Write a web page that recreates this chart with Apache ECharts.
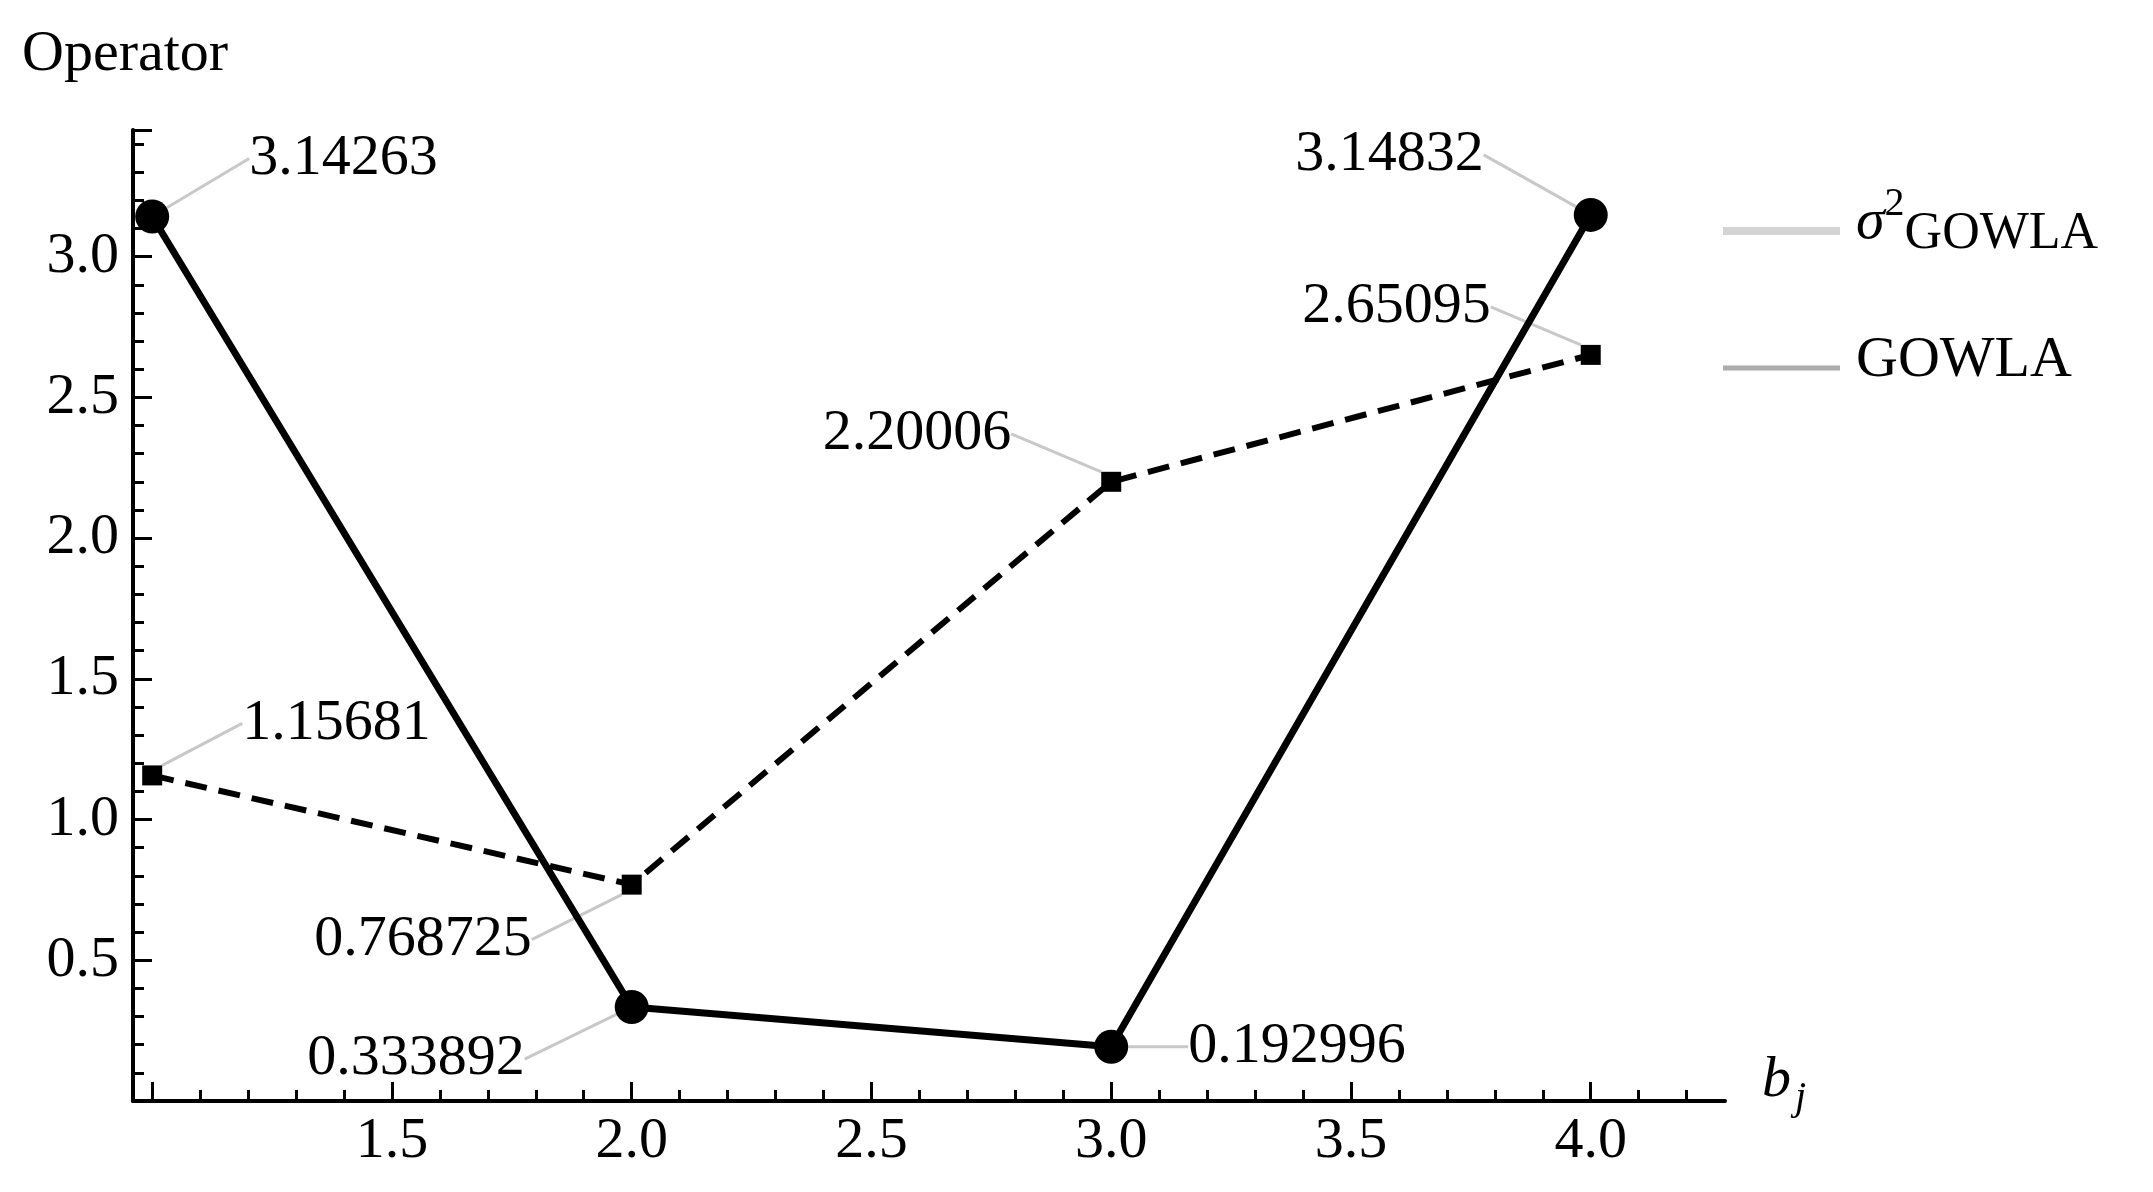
<!DOCTYPE html>
<html><head><meta charset="utf-8">
<script src="https://cdn.jsdelivr.net/npm/echarts@6/dist/echarts.min.js"></script>
<style>html,body{margin:0;padding:0;background:#fff}#c{width:2153px;height:1192px}</style>
</head><body><div id="c"></div>
<script>
const xValues = [1, 2, 3, 4];
const gowla = [3.14263, 0.333892, 0.192996, 3.14832];
const sigma2Gowla = [1.15681, 0.768725, 2.20006, 2.65095];
const xTickLabels = [1.5, 2.0, 2.5, 3.0, 3.5, 4.0];
const xMajorTicks = [1, 1.5, 2, 2.5, 3, 3.5, 4];

const xMinorTicks = [];
for (let i = 11; i <= 43; i++) { if (i % 5 !== 0) xMinorTicks.push(i / 10); }

const F = 'Liberation Serif, Times New Roman, serif';
const FS = 58;
// label offsets (style, px)
const gOff = [[75,-58,'left'],[-85,52,'right'],[55,0,'left'],[-85,-60,'right']];
const sOff = [[75,-52,'left'],[-85,55,'right'],[-85,-48,'right'],[-85,-48,'right']];

function mk(vals, offs){
  return vals.map((v,i)=>({value:[xValues[i], v], label:{position: offs[i][2]==='left'?'right':'left'}}));
}
const chart = echarts.init(document.getElementById('c'));
const tickStyle = {color:'#000', width:3};
chart.setOption({
  animation:false,
  grid:{left:133, right:428, top:130, bottom:91, containLabel:false},
  xAxis:[{
    type:'value', min:0.96, max:4.28,
    axisLine:{onZero:false, lineStyle:{color:'#000', width:4}},
    axisTick:{inside:true, length:19, lineStyle:tickStyle, customValues:xMajorTicks},
    axisLabel:{customValues:xTickLabels, formatter:v=>v.toFixed(1), color:'#000', fontFamily:F, fontSize:FS, margin:12},
    splitLine:{show:false}
  },{
    type:'value', min:0.96, max:4.28, position:'bottom',
    axisLine:{show:false},
    axisTick:{inside:true, length:11, lineStyle:tickStyle, customValues:xMinorTicks},
    axisLabel:{show:false}, splitLine:{show:false}
  }],
  yAxis:{
    type:'value', min:0, max:3.45, interval:0.5,
    axisLine:{show:true, onZero:false, lineStyle:{color:'#000', width:4}},
    axisTick:{show:true, inside:true, length:19, lineStyle:tickStyle},
    minorTick:{show:true, splitNumber:5, length:11, lineStyle:tickStyle},
    axisLabel:{color:'#000', fontFamily:F, fontSize:FS, margin:14, showMaxLabel:false,
      formatter:v=> (v>0 && v<=3.0001) ? v.toFixed(1) : ''},
    splitLine:{show:false}
  },
  series:[{
    name:'σ2GOWLA', type:'line', data:mk(sigma2Gowla, sOff), z:3,
    symbol:'rect', symbolSize:20, itemStyle:{color:'#000'},
    lineStyle:{color:'#000', width:6, type:[22,12]},
    label:{show:true, color:'#000', fontFamily:F, fontSize:FS, formatter:p=>String(p.value[1])},
    labelLine:{show:true, lineStyle:{color:'#c8c8c8', width:3}},
    labelLayout:p=>({dx:sOff[p.dataIndex][0], dy:sOff[p.dataIndex][1]})
  },{
    name:'GOWLA', type:'line', data:mk(gowla, gOff), z:4,
    symbol:'circle', symbolSize:34, itemStyle:{color:'#000'},
    lineStyle:{color:'#000', width:7},
    label:{show:true, color:'#000', fontFamily:F, fontSize:FS, formatter:p=>String(p.value[1])},
    labelLine:{show:true, lineStyle:{color:'#c8c8c8', width:3}},
    labelLayout:p=>({dx:gOff[p.dataIndex][0], dy:gOff[p.dataIndex][1]})
  }],
  graphic:[
    {type:'text', left:22, top:26, style:{text:'Operator', font:`${FS}px ${F}`, fill:'#000'}},
    {type:'text', left:1762, top:1052, style:{rich:{b:{fontFamily:F, fontSize:FS, fontStyle:'italic', fill:'#000'}, j:{fontFamily:F, fontSize:40, fontStyle:'italic', fill:'#000', padding:[34,0,0,4]}}, text:'{b|b}{j|j}'}},
    {type:'line', shape:{x1:1723, y1:231, x2:1840, y2:231}, style:{stroke:'#d4d4d4', lineWidth:8}},
    {type:'line', shape:{x1:1723, y1:368, x2:1840, y2:368}, style:{stroke:'#acacac', lineWidth:5}},
    {type:'text', left:1856, top:184, style:{rich:{s:{fontFamily:F, fontSize:FS, fontStyle:'italic', fill:'#000'}, p:{fontFamily:F, fontSize:40, fill:'#000', padding:[0,0,38,0]}, g:{fontFamily:F, fontSize:52, fill:'#000', padding:[22,0,0,0]}}, text:'{s|σ}{p|2}{g|GOWLA}'}},
    {type:'text', left:1856, top:332, style:{text:'GOWLA', font:`${FS}px ${F}`, fill:'#000'}}
  ]
});
</script></body></html>
